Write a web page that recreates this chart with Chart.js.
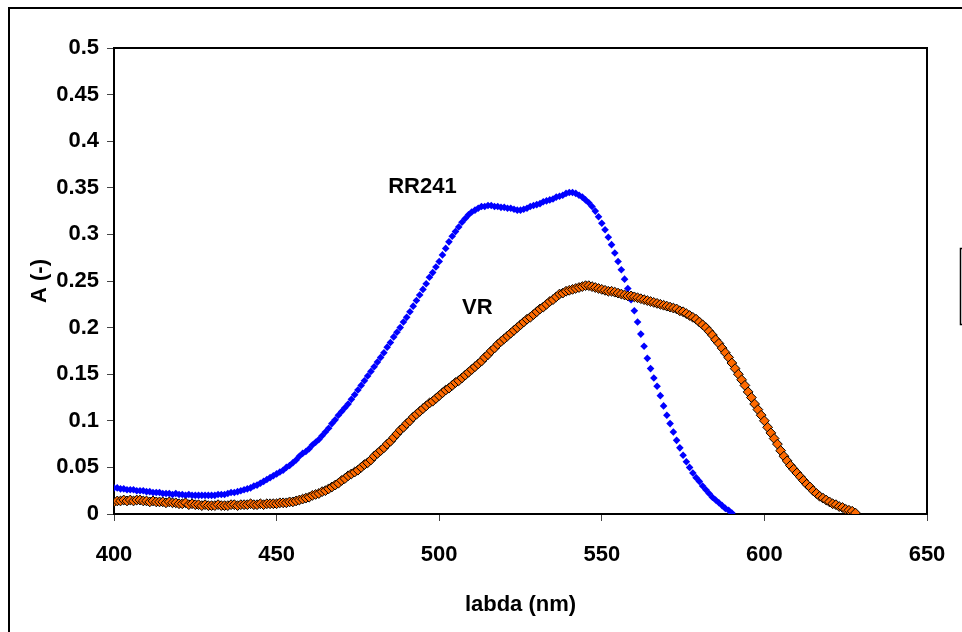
<!DOCTYPE html>
<html>
<head>
<meta charset="utf-8">
<script src="https://cdn.jsdelivr.net/npm/chart.js@4.4.1/dist/chart.umd.min.js"></script>
<style>
html,body{margin:0;padding:0;background:#fff;}
canvas{display:block;}
</style>
</head>
<body>
<canvas id="c" width="962" height="632"></canvas>
<script>
// ---- data ----
const nmRR = [400,401,402,403,404,405,406,407,408,409,410,411,412,413,414,415,416,417,418,419,420,421,422,423,424,425,426,427,428,429,430,431,432,433,434,435,436,437,438,439,440,441,442,443,444,445,446,447,448,449,450,451,452,453,454,455,456,457,458,459,460,461,462,463,464,465,466,467,468,469,470,471,472,473,474,475,476,477,478,479,480,481,482,483,484,485,486,487,488,489,490,491,492,493,494,495,496,497,498,499,500,501,502,503,504,505,506,507,508,509,510,511,512,513,514,515,516,517,518,519,520,521,522,523,524,525,526,527,528,529,530,531,532,533,534,535,536,537,538,539,540,541,542,543,544,545,546,547,548,549,550,551,552,553,554,555,556,557,558,559,560,561,562,563,564,565,566,567,568,569,570,571,572,573,574,575,576,577,578,579,580,581,582,583,584,585,586,587,588,589,590];
const absRR = [.028,.028,.027,.027,.026,.026,.026,.025,.025,.025,.024,.024,.023,.023,.023,.022,.022,.022,.021,.022,.021,.021,.020,.021,.020,.020,.020,.020,.020,.020,.020,.020,.021,.021,.021,.022,.023,.023,.024,.025,.026,.027,.028,.030,.031,.033,.035,.037,.039,.041,.043,.045,.047,.050,.052,.055,.058,.062,.065,.067,.070,.074,.077,.080,.084,.088,.092,.097,.101,.106,.110,.114,.118,.123,.128,.133,.138,.143,.148,.153,.158,.163,.168,.173,.179,.184,.190,.195,.200,.206,.211,.217,.223,.229,.235,.241,.247,.254,.259,.265,.271,.278,.285,.292,.298,.303,.308,.313,.317,.321,.324,.326,.328,.330,.330,.331,.331,.330,.330,.329,.329,.328,.328,.327,.326,.326,.327,.328,.330,.331,.332,.333,.335,.336,.337,.338,.340,.341,.342,.344,.345,.345,.344,.342,.340,.337,.334,.330,.325,.319,.312,.305,.297,.289,.280,.271,.262,.252,.242,.230,.218,.206,.193,.180,.167,.156,.146,.137,.127,.116,.106,.097,.088,.079,.071,.063,.056,.050,.044,.039,.035,.030,.026,.022,.018,.015,.012,.009,.006,.004,.001];
const nmVR = [400,401,402,403,404,405,406,407,408,409,410,411,412,413,414,415,416,417,418,419,420,421,422,423,424,425,426,427,428,429,430,431,432,433,434,435,436,437,438,439,440,441,442,443,444,445,446,447,448,449,450,451,452,453,454,455,456,457,458,459,460,461,462,463,464,465,466,467,468,469,470,471,472,473,474,475,476,477,478,479,480,481,482,483,484,485,486,487,488,489,490,491,492,493,494,495,496,497,498,499,500,501,502,503,504,505,506,507,508,509,510,511,512,513,514,515,516,517,518,519,520,521,522,523,524,525,526,527,528,529,530,531,532,533,534,535,536,537,538,539,540,541,542,543,544,545,546,547,548,549,550,551,552,553,554,555,556,557,558,559,560,561,562,563,564,565,566,567,568,569,570,571,572,573,574,575,576,577,578,579,580,581,582,583,584,585,586,587,588,589,590,591,592,593,594,595,596,597,598,599,600,601,602,603,604,605,606,607,608,609,610,611,612,613,614,615,616,617,618,619,620,621,622,623,624,625,626,627,628];
const absVR = [.013,.014,.014,.015,.014,.015,.014,.015,.015,.014,.014,.013,.014,.013,.013,.013,.012,.013,.012,.012,.011,.011,.012,.010,.011,.010,.010,.009,.010,.009,.009,.009,.010,.009,.009,.009,.010,.010,.009,.010,.010,.010,.011,.010,.010,.011,.010,.011,.011,.011,.011,.012,.012,.012,.013,.013,.014,.015,.016,.017,.018,.020,.021,.022,.024,.025,.027,.029,.031,.033,.036,.038,.041,.043,.045,.047,.050,.053,.055,.058,.062,.065,.068,.071,.075,.078,.082,.086,.090,.093,.097,.100,.104,.107,.110,.113,.116,.119,.121,.124,.127,.130,.133,.135,.138,.141,.143,.146,.149,.152,.155,.158,.161,.164,.168,.171,.175,.178,.182,.185,.188,.191,.194,.197,.200,.203,.206,.209,.211,.214,.217,.220,.222,.225,.228,.230,.233,.236,.237,.239,.240,.241,.242,.243,.244,.245,.245,.244,.243,.242,.241,.240,.239,.239,.238,.237,.236,.235,.234,.234,.233,.232,.231,.230,.229,.228,.227,.226,.225,.224,.223,.222,.221,.220,.218,.217,.215,.213,.211,.209,.206,.203,.200,.196,.192,.187,.183,.178,.173,.168,.162,.156,.150,.144,.138,.131,.125,.118,.112,.106,.100,.093,.087,.081,.075,.068,.062,.057,.052,.048,.044,.040,.036,.032,.029,.025,.022,.019,.017,.015,.013,.011,.010,.008,.007,.005,.004,.003,.001];
const seriesNames = ['RR241', 'VR'];
const xTicks = [400, 450, 500, 550, 600, 650];
const yTicks = [0, 0.05, 0.1, 0.15, 0.2, 0.25, 0.3, 0.35, 0.4, 0.45, 0.5];
const xTitle = 'labda (nm)';
const yTitle = 'A (-)';
// annotation anchors in data units (left edge, vertical centre)
const labelAnchors = [{text: 'RR241', x: 484.3, y: 0.351}, {text: 'VR', x: 507, y: 0.221}];

// ---- chart ----
const FONT = "'Liberation Sans',Arial,sans-serif";
const toPts = (xs, ys) => xs.map((x, i) => ({x: x, y: ys[i]}));

const decor = {
  id: 'decor',
  beforeDraw(chart) {
    const ctx = chart.ctx;
    ctx.save();
    ctx.fillStyle = '#fff';
    ctx.fillRect(0, 0, chart.width, chart.height);
    // outer chart border
    ctx.strokeStyle = '#000';
    ctx.lineWidth = 2;
    ctx.strokeRect(9, 8, 1000, 700);
    // legend box (cut off at right edge)
    ctx.lineWidth = 1.5;
    ctx.strokeRect(960.5, 248.5, 60, 76);
    ctx.restore();
  },
  afterDraw(chart) {
    const ctx = chart.ctx, a = chart.chartArea;
    ctx.save();
    ctx.strokeStyle = '#000';
    ctx.lineWidth = 2;
    ctx.beginPath();
    ctx.moveTo(a.left, a.top);
    ctx.lineTo(a.right, a.top);
    ctx.lineTo(a.right, a.bottom);
    ctx.stroke();
    const xs = chart.scales.x, ys = chart.scales.y;
    ctx.fillStyle = '#000';
    ctx.font = 'bold 22px ' + FONT;
    ctx.textAlign = 'left';
    ctx.textBaseline = 'middle';
    labelAnchors.forEach(l => ctx.fillText(l.text, xs.getPixelForValue(l.x), ys.getPixelForValue(l.y)));
    ctx.restore();
  }
};

new Chart(document.getElementById('c'), {
  type: 'scatter',
  data: {
    datasets: [
      {label: seriesNames[0], data: toPts(nmRR, absRR), showLine: false, order: 2,
       pointStyle: 'rectRot', pointRadius: 3.8, pointBorderWidth: 0,
       backgroundColor: '#0000FF', borderColor: '#0000FF'},
      {label: seriesNames[1], data: toPts(nmVR, absVR), showLine: false, order: 1,
       pointStyle: 'rectRot', pointRadius: 4.9, pointBorderWidth: 1,
       backgroundColor: '#FF6A00', borderColor: '#000000'}
    ]
  },
  options: {
    responsive: false,
    animation: false,
    devicePixelRatio: 1,
    layout: {padding: {left: 23, top: 48, right: 35, bottom: 10}},
    plugins: {legend: {display: false}, tooltip: {enabled: false}},
    scales: {
      x: {
        type: 'linear', min: 400, max: 650,
        afterBuildTicks: s => { s.ticks = xTicks.map(v => ({value: v})); },
        afterFit: s => { s.height = 108; s.paddingLeft = 0; s.paddingRight = 0; },
        border: {display: true, color: '#000', width: 2},
        grid: {drawOnChartArea: false, drawTicks: true, tickLength: 7, color: '#444', lineWidth: 1},
        ticks: {color: '#000', padding: 21, maxRotation: 0, font: {family: FONT, size: 22, weight: 'bold'}},
        title: {display: true, text: xTitle, color: '#000', padding: {top: 4, bottom: 4}, font: {family: FONT, size: 22, weight: 'bold'}}
      },
      y: {
        type: 'linear', min: 0, max: 0.5,
        afterBuildTicks: s => { s.ticks = yTicks.map(v => ({value: v})); },
        afterFit: s => { s.width = 91; s.paddingTop = 0; s.paddingBottom = 0; },
        border: {display: true, color: '#000', width: 2},
        grid: {drawOnChartArea: false, drawTicks: true, tickLength: 7, color: '#444', lineWidth: 1},
        ticks: {color: '#000', padding: 8, callback: v => String(Number(v.toFixed(2))), font: {family: FONT, size: 22, weight: 'bold'}},
        title: {display: true, text: yTitle, color: '#000', padding: {top: 4, bottom: 4}, font: {family: FONT, size: 22, weight: 'bold'}}
      }
    }
  },
  plugins: [decor]
});
</script>
</body>
</html>
